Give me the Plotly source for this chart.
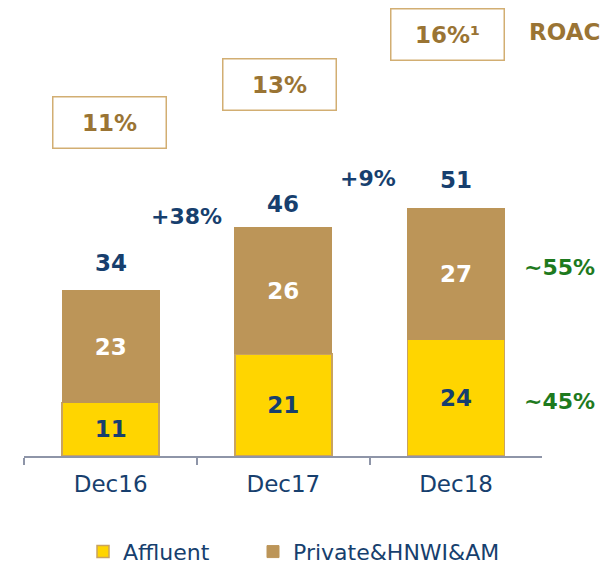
import plotly.graph_objects as go

years = ["Dec16", "Dec17", "Dec18"]
affluent = [11, 21, 24]
private = [23, 26, 27]
totals = [34, 46, 51]
roac = ["11%", "13%", "16%¹"]
growth = ["+38%", "+9%"]
shares = ["~55%", "~45%"]

navy = "#173F6E"
gold = "#BC9558"
yellow = "#FFD500"
brown_txt = "#9A7434"
green = "#1E7A1E"
font = "DejaVu Sans"

fig = go.Figure()
fig.add_trace(go.Bar(
    x=years, y=affluent, name="Affluent", text=affluent, legend="legend",
    marker=dict(color=yellow, line=dict(color="#C9A360", width=1.5)),
    textposition="inside", insidetextanchor="middle",
    textfont=dict(color=navy, size=23, family=font, weight="bold"),
    width=0.562,
))
fig.add_trace(go.Bar(
    x=years, y=private, name="Private&HNWI&AM", text=private, legend="legend2",
    marker=dict(color=gold, line=dict(color=gold, width=1)),
    textposition="inside", insidetextanchor="middle",
    textfont=dict(color="white", size=23, family=font, weight="bold"),
    width=0.562,
))

# totals above bars
for i, t in enumerate(totals):
    fig.add_annotation(x=i, y=t, text=f"<b>{t}</b>", showarrow=False,
                       yanchor="middle", yshift=28,
                       font=dict(color=navy, size=23, family=font))

# growth rates
fig.add_annotation(x=0.442, y=49.2, text=f"<b>{growth[0]}</b>", showarrow=False,
                   font=dict(color=navy, size=22, family=font))
fig.add_annotation(x=1.49, y=57.2, text=f"<b>{growth[1]}</b>", showarrow=False,
                   font=dict(color=navy, size=22, family=font))

# mix shares (right of plot)
fig.add_annotation(xref="paper", x=559.5 / 610, y=38.7, text=f"<b>{shares[0]}</b>",
                   xanchor="center", yanchor="middle",
                   showarrow=False, font=dict(color=green, size=22, family=font))
fig.add_annotation(xref="paper", x=559.5 / 610, y=11.3, text=f"<b>{shares[1]}</b>",
                   xanchor="center", yanchor="middle",
                   showarrow=False, font=dict(color=green, size=22, family=font))

# ROAC boxes
box_x = [-0.004, 0.98, 1.948]
box_y = [68.7, 76.5, 86.7]
for bx, by, r in zip(box_x, box_y, roac):
    fig.add_annotation(x=bx, y=by, text=f"<b>{r}</b>", showarrow=False,
                       xanchor="center", yanchor="middle",
                       width=110, height=48, borderpad=1,
                       bordercolor="#D2AE72", borderwidth=1.5,
                       font=dict(color=brown_txt, size=23, family=font))
fig.add_annotation(xref="paper", yref="paper", x=564.7 / 610, y=(566 - 32) / 566,
                   xanchor="center", yanchor="middle",
                   text="<b>ROAC</b>", showarrow=False,
                   font=dict(color=brown_txt, size=23, family=font))

legend_font = dict(color=navy, size=22, family=font)
fig.update_layout(
    width=610, height=566,
    margin=dict(l=0, r=0, t=0, b=0, autoexpand=False),
    plot_bgcolor="white", paper_bgcolor="white",
    barmode="stack", showlegend=True,
    legend=dict(orientation="h", x=83 / 610, xanchor="left", y=-0.012,
                yanchor="bottom", font=legend_font, bgcolor="rgba(0,0,0,0)"),
    legend2=dict(orientation="h", x=253 / 610, xanchor="left", y=-0.012,
                 yanchor="bottom", font=legend_font, bgcolor="rgba(0,0,0,0)"),
    xaxis=dict(domain=[24.3 / 610, 542.4 / 610], range=[-0.5, 2.5],
               type="category", tickson="boundaries",
               ticks="outside", ticklen=7, tickcolor="#8E95A8", tickwidth=2,
               showline=True, linecolor="#8E95A8", linewidth=2,
               showgrid=False, zeroline=False, ticklabelstandoff=6,
               tickfont=dict(color=navy, size=23, family=font)),
    yaxis=dict(domain=[110 / 566, 1], range=[0, 456 / 4.86], visible=False),
)

fig.write_html("out.html", config={"displayModeBar": False},
               post_script="document.body.style.margin='0px';")
